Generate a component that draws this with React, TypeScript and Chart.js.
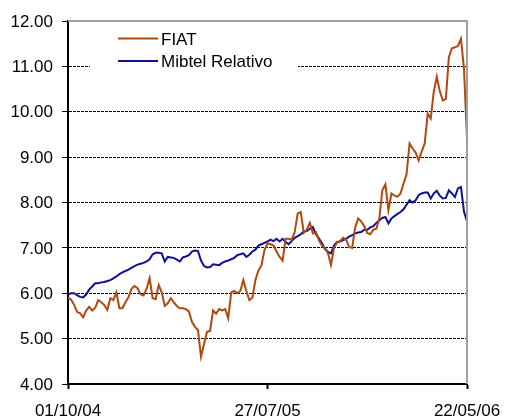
import React, { useEffect, useRef } from "react";
import { Chart, registerables } from "chart.js";

Chart.register(...registerables);

const seriesNames = ["FIAT", "Mibtel Relativo"];
const tickLabels = ["01/10/04", "27/07/05", "22/05/06"];
const yTicks = [4, 5, 6, 7, 8, 9, 10, 11, 12];

const fiat = [
  5.91, 5.86, 5.75, 5.59, 5.56, 5.47, 5.62, 5.70, 5.62, 5.68,
  5.85, 5.80, 5.74, 5.63, 5.89, 5.85, 6.02, 5.67, 5.67, 5.80,
  5.91, 6.10, 6.16, 6.11, 5.98, 5.95, 6.10, 6.33, 5.89, 5.87,
  6.18, 6.02, 5.72, 5.78, 5.89, 5.80, 5.72, 5.67, 5.67, 5.65,
  5.60, 5.37, 5.26, 5.19, 4.60, 4.88, 5.15, 5.17, 5.62, 5.55,
  5.65, 5.62, 5.65, 5.45, 6.02, 6.05, 6.00, 6.05, 6.29, 6.05,
  5.85, 5.90, 6.29, 6.50, 6.62, 6.95, 7.10, 7.08, 7.05, 6.92,
  6.80, 6.72, 7.20, 7.20, 7.18, 7.35, 7.76, 7.79, 7.33, 7.40,
  7.55, 7.32, 7.35, 7.17, 7.05, 7.00, 6.88, 6.62, 7.00, 7.12,
  7.15, 7.22, 7.18, 7.02, 7.00, 7.45, 7.65, 7.58, 7.48, 7.33,
  7.30, 7.40, 7.42, 7.65, 8.27, 8.40, 7.83, 8.20, 8.15, 8.13,
  8.20, 8.42, 8.62, 9.30, 9.19, 9.10, 8.93, 9.12, 9.30, 9.96,
  9.85, 10.44, 10.77, 10.45, 10.25, 10.28, 11.20, 11.40, 11.42, 11.45,
  11.61, 10.95, 9.40,
];

const mibtel = [
  5.97, 6.00, 6.00, 5.96, 5.92, 5.91, 5.97, 6.08, 6.15, 6.22,
  6.22, 6.24, 6.25, 6.27, 6.29, 6.33, 6.37, 6.42, 6.46, 6.49,
  6.52, 6.56, 6.60, 6.63, 6.65, 6.67, 6.70, 6.75, 6.86, 6.89,
  6.89, 6.88, 6.70, 6.80, 6.79, 6.78, 6.74, 6.70, 6.79, 6.81,
  6.84, 6.92, 6.94, 6.93, 6.72, 6.60, 6.57, 6.58, 6.64, 6.63,
  6.62, 6.67, 6.70, 6.72, 6.75, 6.78, 6.84, 6.86, 6.88, 6.80,
  6.85, 6.92, 6.96, 7.05, 7.08, 7.11, 7.14, 7.18, 7.15, 7.20,
  7.14, 7.20, 7.13, 7.08, 7.15, 7.22, 7.26, 7.30, 7.36, 7.37,
  7.42, 7.46, 7.30, 7.21, 7.10, 6.98, 6.91, 6.88, 7.05, 7.13,
  7.14, 7.17, 7.20, 7.25, 7.28, 7.32, 7.34, 7.35, 7.40, 7.40,
  7.45, 7.48, 7.55, 7.61, 7.66, 7.68, 7.54, 7.65, 7.70, 7.75,
  7.79, 7.85, 7.95, 8.05, 8.00, 8.05, 8.16, 8.20, 8.22, 8.22,
  8.09, 8.20, 8.26, 8.15, 8.09, 8.10, 8.27, 8.20, 8.12, 8.31,
  8.34, 7.80, 7.58,
];

const colors = ["#B04810", "#101090"];
const FONT = "'Liberation Sans', Arial, sans-serif";

export default function App() {
  const ref = useRef<HTMLCanvasElement | null>(null);

  useEffect(() => {
    document.body.style.margin = "0";
    const canvas = ref.current;
    if (!canvas) return;
    const last = fiat.length - 1;
    const tickIdx = [0, last / 2, last];

    const frame = {
      id: "frame",
      beforeDatasetsDraw(chart: any) {
        const { ctx } = chart;
        ctx.save();
        ctx.fillStyle = "#ffffff";
        ctx.fillRect(90, 27, 208, 52);
        ctx.restore();
      },
      afterDatasetsDraw(chart: any) {
        const { ctx, chartArea } = chart;
        ctx.save();
        ctx.strokeStyle = "#a0a0a0";
        ctx.lineWidth = 2;
        ctx.beginPath();
        ctx.moveTo(chartArea.left, chartArea.top);
        ctx.lineTo(chartArea.right, chartArea.top);
        ctx.lineTo(chartArea.right, chartArea.bottom);
        ctx.stroke();
        const ly = [38.5, 61];
        ctx.font = "17px " + FONT;
        ctx.textBaseline = "middle";
        ctx.textAlign = "left";
        seriesNames.forEach((name, i) => {
          ctx.strokeStyle = colors[i];
          ctx.lineWidth = 2;
          ctx.beginPath();
          ctx.moveTo(118, ly[i]);
          ctx.lineTo(158, ly[i]);
          ctx.stroke();
          ctx.fillStyle = "#000000";
          ctx.fillText(name, 161, ly[i] + 1.5);
        });
        ctx.restore();
      },
    };

    const chart = new Chart(canvas, {
      type: "line",
      data: {
        datasets: [fiat, mibtel].map((arr, k) => ({
          label: seriesNames[k],
          data: arr.map((v, i) => ({ x: i, y: v })),
          borderColor: colors[k],
          borderWidth: 2,
          pointRadius: 0,
          tension: 0,
          fill: false,
        })),
      },
      options: {
        animation: false,
        responsive: false,
        maintainAspectRatio: false,
        layout: { padding: { left: 0, right: 38, top: 21, bottom: 0 } },
        plugins: { legend: { display: false }, tooltip: { enabled: false } },
        scales: {
          x: {
            type: "linear",
            min: 0,
            max: last,
            afterBuildTicks: (scale: any) => {
              scale.ticks = tickIdx.map((v) => ({ value: v }));
            },
            afterFit: (scale: any) => {
              scale.height = 35;
              scale.paddingLeft = 0;
              scale.paddingRight = 0;
            },
            ticks: {
              autoSkip: false,
              maxRotation: 0,
              padding: 12,
              color: "#000000",
              font: { family: FONT, size: 17 },
              callback: (v: any) => {
                const i = tickIdx.indexOf(Number(v));
                return i >= 0 ? tickLabels[i] : "";
              },
            },
            grid: {
              drawOnChartArea: false,
              drawTicks: true,
              tickLength: 5,
              tickColor: "#000000",
              tickWidth: 2,
            },
            border: { display: true, color: "#000000", width: 2 },
          },
          y: {
            type: "linear",
            min: 4,
            max: 12,
            afterBuildTicks: (scale: any) => {
              scale.ticks = yTicks.map((v) => ({ value: v }));
            },
            afterFit: (scale: any) => {
              scale.width = 68;
              scale.paddingTop = 0;
              scale.paddingBottom = 0;
            },
            ticks: {
              padding: 9,
              labelOffset: 1,
              color: "#000000",
              font: { family: FONT, size: 17 },
              callback: (v: any) => Number(v).toFixed(2),
            },
            grid: {
              drawTicks: true,
              tickLength: 6,
              tickColor: "#000000",
              color: (c: any) => (c.tick && c.tick.value === 12 ? "rgba(0,0,0,0)" : "#000000"),
              lineWidth: 1,
            },
            border: { display: true, color: "#000000", width: 2, dash: [3, 1] },
          },
        },
      },
      plugins: [frame],
    });
    return () => chart.destroy();
  }, []);

  return (
    <div style={{ width: 505, height: 419 }}>
      <canvas ref={ref} width={505} height={419} style={{ display: "block" }} />
    </div>
  );
}
